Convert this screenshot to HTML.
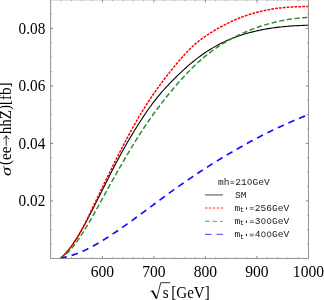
<!DOCTYPE html>
<html><head><meta charset="utf-8"><title>plot</title>
<style>
html,body{margin:0;padding:0;background:#fff;}
body{width:324px;height:300px;overflow:hidden;}
svg{display:block;}
.ser{font-family:"Liberation Serif",serif;font-size:16px;fill:#000;}
.lab{font-family:"Liberation Serif",serif;font-size:16px;fill:#000;}
.mono{font-family:"Liberation Mono",monospace;font-size:8.3px;fill:#181818;}
</style></head><body>
<svg width="324" height="300" viewBox="0 0 324 300" style="will-change:transform">
<rect width="324" height="300" fill="#fff"/>
<clipPath id="cp"><rect x="50.65" y="0" width="257.75" height="259.0"/></clipPath>
<g clip-path="url(#cp)" fill="none" stroke-linecap="butt" stroke-linejoin="round">
<path d="M60.50,258.29 L61.17,257.72 L61.84,257.12 L62.51,256.50 L63.18,255.85 L63.85,255.19 L64.52,254.50 L65.19,253.79 L65.86,253.05 L66.53,252.30 L67.19,251.53 L67.86,250.73 L68.53,249.91 L69.20,249.08 L69.87,248.22 L70.54,247.34 L71.21,246.44 L71.88,245.53 L72.55,244.59 L73.22,243.63 L73.89,242.66 L74.56,241.67 L75.23,240.66 L75.90,239.63 L76.57,238.58 L77.24,237.52 L77.91,236.43 L78.58,235.33 L79.25,234.22 L79.92,233.09 L80.58,231.94 L81.25,230.77 L81.92,229.59 L82.59,228.40 L83.26,227.19 L83.93,225.97 L84.60,224.74 L85.27,223.50 L85.94,222.25 L86.61,220.99 L87.28,219.72 L87.95,218.44 L88.62,217.16 L89.29,215.87 L89.96,214.57 L90.63,213.27 L91.30,211.96 L91.97,210.65 L92.64,209.33 L93.31,208.01 L93.97,206.68 L94.64,205.35 L95.31,204.02 L95.98,202.69 L96.65,201.35 L97.32,200.02 L97.99,198.68 L98.66,197.34 L99.33,196.00 L100.00,194.66 L101.75,191.14 L103.51,187.63 L105.26,184.13 L107.02,180.65 L108.77,177.18 L110.53,173.73 L112.28,170.30 L114.04,166.91 L115.79,163.55 L117.55,160.23 L119.30,156.95 L121.06,153.72 L122.81,150.54 L124.56,147.41 L126.32,144.33 L128.07,141.29 L129.83,138.30 L131.58,135.35 L133.34,132.44 L135.09,129.58 L136.85,126.76 L138.60,123.97 L140.36,121.23 L142.11,118.53 L143.87,115.88 L145.62,113.27 L147.37,110.72 L149.13,108.22 L150.88,105.78 L152.64,103.40 L154.39,101.08 L156.15,98.82 L157.90,96.64 L159.66,94.53 L161.41,92.48 L163.17,90.49 L164.92,88.56 L166.68,86.66 L168.43,84.80 L170.18,82.97 L171.94,81.16 L173.69,79.38 L175.45,77.63 L177.20,75.91 L178.96,74.21 L180.71,72.54 L182.47,70.90 L184.22,69.29 L185.98,67.72 L187.73,66.17 L189.49,64.66 L191.24,63.18 L192.99,61.73 L194.75,60.31 L196.50,58.93 L198.26,57.59 L200.01,56.28 L201.77,55.00 L203.52,53.77 L205.28,52.57 L207.03,51.40 L208.79,50.28 L210.54,49.19 L212.30,48.13 L214.05,47.11 L215.81,46.13 L217.56,45.17 L219.31,44.25 L221.07,43.36 L222.82,42.50 L224.58,41.67 L226.33,40.87 L228.09,40.10 L229.84,39.36 L231.60,38.64 L233.35,37.95 L235.11,37.28 L236.86,36.64 L238.62,36.02 L240.37,35.43 L242.12,34.85 L243.88,34.30 L245.63,33.77 L247.39,33.26 L249.14,32.77 L250.90,32.30 L252.65,31.86 L254.41,31.43 L256.16,31.01 L257.92,30.62 L259.67,30.25 L261.43,29.89 L263.18,29.55 L264.93,29.22 L266.69,28.91 L268.44,28.62 L270.20,28.34 L271.95,28.08 L273.71,27.83 L275.46,27.60 L277.22,27.38 L278.97,27.17 L280.73,26.97 L282.48,26.79 L284.24,26.61 L285.99,26.45 L287.74,26.30 L289.50,26.16 L291.25,26.03 L293.01,25.91 L294.76,25.80 L296.52,25.69 L298.27,25.60 L300.03,25.51 L301.78,25.43 L303.54,25.35 L305.29,25.28 L307.05,25.22 L308.80,25.17" stroke="#000" stroke-width="1.1"/>
<path d="M60.50,258.29 L61.17,257.71 L61.84,257.10 L62.51,256.48 L63.18,255.83 L63.85,255.17 L64.52,254.48 L65.19,253.77 L65.86,253.05 L66.53,252.30 L67.19,251.53 L67.86,250.75 L68.53,249.94 L69.20,249.11 L69.87,248.26 L70.54,247.39 L71.21,246.49 L71.88,245.58 L72.55,244.65 L73.22,243.69 L73.89,242.71 L74.56,241.71 L75.23,240.69 L75.90,239.65 L76.57,238.58 L77.24,237.49 L77.91,236.38 L78.58,235.25 L79.25,234.10 L79.92,232.92 L80.58,231.72 L81.25,230.50 L81.92,229.26 L82.59,228.00 L83.26,226.72 L83.93,225.42 L84.60,224.12 L85.27,222.79 L85.94,221.46 L86.61,220.11 L87.28,218.76 L87.95,217.40 L88.62,216.02 L89.29,214.65 L89.96,213.26 L90.63,211.88 L91.30,210.49 L91.97,209.09 L92.64,207.70 L93.31,206.30 L93.97,204.90 L94.64,203.50 L95.31,202.11 L95.98,200.71 L96.65,199.31 L97.32,197.91 L97.99,196.51 L98.66,195.11 L99.33,193.71 L100.00,192.32 L101.75,188.67 L103.51,185.02 L105.26,181.39 L107.02,177.78 L108.77,174.18 L110.53,170.60 L112.28,167.05 L114.04,163.51 L115.79,160.00 L117.55,156.52 L119.30,153.06 L121.06,149.64 L122.81,146.25 L124.56,142.89 L126.32,139.57 L128.07,136.28 L129.83,133.04 L131.58,129.83 L133.34,126.68 L135.09,123.56 L136.85,120.50 L138.60,117.48 L140.36,114.52 L142.11,111.61 L143.87,108.75 L145.62,105.95 L147.37,103.21 L149.13,100.51 L150.88,97.87 L152.64,95.27 L154.39,92.73 L156.15,90.22 L157.90,87.76 L159.66,85.35 L161.41,82.97 L163.17,80.63 L164.92,78.32 L166.68,76.05 L168.43,73.82 L170.18,71.61 L171.94,69.43 L173.69,67.28 L175.45,65.16 L177.20,63.06 L178.96,60.99 L180.71,58.95 L182.47,56.94 L184.22,54.99 L185.98,53.07 L187.73,51.22 L189.49,49.42 L191.24,47.68 L192.99,46.02 L194.75,44.42 L196.50,42.91 L198.26,41.47 L200.01,40.10 L201.77,38.79 L203.52,37.53 L205.28,36.32 L207.03,35.15 L208.79,34.01 L210.54,32.90 L212.30,31.82 L214.05,30.75 L215.81,29.71 L217.56,28.70 L219.31,27.70 L221.07,26.73 L222.82,25.78 L224.58,24.86 L226.33,23.96 L228.09,23.09 L229.84,22.24 L231.60,21.41 L233.35,20.61 L235.11,19.83 L236.86,19.08 L238.62,18.36 L240.37,17.66 L242.12,16.99 L243.88,16.34 L245.63,15.72 L247.39,15.12 L249.14,14.55 L250.90,14.00 L252.65,13.47 L254.41,12.97 L256.16,12.49 L257.92,12.03 L259.67,11.59 L261.43,11.17 L263.18,10.78 L264.93,10.41 L266.69,10.05 L268.44,9.72 L270.20,9.41 L271.95,9.11 L273.71,8.83 L275.46,8.58 L277.22,8.34 L278.97,8.11 L280.73,7.91 L282.48,7.72 L284.24,7.55 L285.99,7.39 L287.74,7.25 L289.50,7.12 L291.25,7.01 L293.01,6.91 L294.76,6.83 L296.52,6.76 L298.27,6.70 L300.03,6.65 L301.78,6.62 L303.54,6.60 L305.29,6.59 L307.05,6.59 L308.80,6.61" stroke="#ff0000" stroke-width="1.5" stroke-dasharray="2.7 1.19" stroke-dashoffset="3.0"/>
<path d="M60.50,258.30 L61.17,257.90 L61.84,257.46 L62.51,257.00 L63.18,256.51 L63.85,256.00 L64.52,255.46 L65.19,254.90 L65.86,254.31 L66.53,253.70 L67.19,253.07 L67.86,252.41 L68.53,251.73 L69.20,251.03 L69.87,250.31 L70.54,249.57 L71.21,248.80 L71.88,248.02 L72.55,247.22 L73.22,246.39 L73.89,245.55 L74.56,244.69 L75.23,243.81 L75.90,242.92 L76.57,242.01 L77.24,241.08 L77.91,240.13 L78.58,239.17 L79.25,238.20 L79.92,237.21 L80.58,236.21 L81.25,235.19 L81.92,234.16 L82.59,233.11 L83.26,232.06 L83.93,230.99 L84.60,229.91 L85.27,228.82 L85.94,227.72 L86.61,226.61 L87.28,225.49 L87.95,224.36 L88.62,223.22 L89.29,222.07 L89.96,220.92 L90.63,219.76 L91.30,218.59 L91.97,217.41 L92.64,216.23 L93.31,215.04 L93.97,213.85 L94.64,212.65 L95.31,211.45 L95.98,210.25 L96.65,209.04 L97.32,207.83 L97.99,206.62 L98.66,205.40 L99.33,204.19 L100.00,202.97 L101.75,199.78 L103.51,196.59 L105.26,193.41 L107.02,190.23 L108.77,187.07 L110.53,183.92 L112.28,180.78 L114.04,177.65 L115.79,174.54 L117.55,171.44 L119.30,168.36 L121.06,165.30 L122.81,162.27 L124.56,159.25 L126.32,156.26 L128.07,153.30 L129.83,150.36 L131.58,147.45 L133.34,144.57 L135.09,141.72 L136.85,138.90 L138.60,136.12 L140.36,133.38 L142.11,130.67 L143.87,127.99 L145.62,125.36 L147.37,122.77 L149.13,120.22 L150.88,117.71 L152.64,115.23 L154.39,112.80 L156.15,110.40 L157.90,108.03 L159.66,105.70 L161.41,103.40 L163.17,101.13 L164.92,98.89 L166.68,96.69 L168.43,94.51 L170.18,92.36 L171.94,90.24 L173.69,88.15 L175.45,86.09 L177.20,84.06 L178.96,82.06 L180.71,80.09 L182.47,78.15 L184.22,76.24 L185.98,74.37 L187.73,72.53 L189.49,70.73 L191.24,68.96 L192.99,67.23 L194.75,65.53 L196.50,63.88 L198.26,62.26 L200.01,60.68 L201.77,59.13 L203.52,57.63 L205.28,56.17 L207.03,54.75 L208.79,53.38 L210.54,52.04 L212.30,50.74 L214.05,49.47 L215.81,48.25 L217.56,47.05 L219.31,45.90 L221.07,44.77 L222.82,43.68 L224.58,42.62 L226.33,41.58 L228.09,40.58 L229.84,39.61 L231.60,38.66 L233.35,37.74 L235.11,36.84 L236.86,35.97 L238.62,35.12 L240.37,34.30 L242.12,33.49 L243.88,32.70 L245.63,31.94 L247.39,31.20 L249.14,30.47 L250.90,29.77 L252.65,29.09 L254.41,28.43 L256.16,27.79 L257.92,27.17 L259.67,26.57 L261.43,25.98 L263.18,25.42 L264.93,24.88 L266.69,24.36 L268.44,23.86 L270.20,23.37 L271.95,22.91 L273.71,22.47 L275.46,22.04 L277.22,21.63 L278.97,21.25 L280.73,20.88 L282.48,20.53 L284.24,20.19 L285.99,19.88 L287.74,19.59 L289.50,19.31 L291.25,19.05 L293.01,18.81 L294.76,18.59 L296.52,18.38 L298.27,18.19 L300.03,18.02 L301.78,17.87 L303.54,17.73 L305.29,17.62 L307.05,17.52 L308.80,17.43" stroke="#2f8f2f" stroke-width="1.5" stroke-dasharray="5.2 2.55" stroke-dashoffset="0.45"/>
<path d="M60.50,258.30 L61.17,258.14 L61.84,257.98 L62.51,257.82 L63.18,257.66 L63.85,257.50 L64.52,257.33 L65.19,257.16 L65.86,256.99 L66.53,256.81 L67.19,256.64 L67.86,256.46 L68.53,256.27 L69.20,256.08 L69.87,255.89 L70.54,255.70 L71.21,255.50 L71.88,255.29 L72.55,255.08 L73.22,254.87 L73.89,254.65 L74.56,254.43 L75.23,254.20 L75.90,253.96 L76.57,253.73 L77.24,253.48 L77.91,253.23 L78.58,252.97 L79.25,252.71 L79.92,252.44 L80.58,252.17 L81.25,251.89 L81.92,251.60 L82.59,251.31 L83.26,251.01 L83.93,250.71 L84.60,250.40 L85.27,250.09 L85.94,249.78 L86.61,249.45 L87.28,249.13 L87.95,248.79 L88.62,248.46 L89.29,248.12 L89.96,247.77 L90.63,247.42 L91.30,247.07 L91.97,246.71 L92.64,246.35 L93.31,245.98 L93.97,245.61 L94.64,245.24 L95.31,244.86 L95.98,244.48 L96.65,244.09 L97.32,243.70 L97.99,243.31 L98.66,242.92 L99.33,242.52 L100.00,242.12 L101.75,241.05 L103.51,239.97 L105.26,238.86 L107.02,237.75 L108.77,236.61 L110.53,235.47 L112.28,234.31 L114.04,233.14 L115.79,231.96 L117.55,230.76 L119.30,229.56 L121.06,228.34 L122.81,227.11 L124.56,225.88 L126.32,224.64 L128.07,223.38 L129.83,222.12 L131.58,220.86 L133.34,219.59 L135.09,218.31 L136.85,217.02 L138.60,215.73 L140.36,214.44 L142.11,213.15 L143.87,211.85 L145.62,210.55 L147.37,209.24 L149.13,207.94 L150.88,206.64 L152.64,205.33 L154.39,204.03 L156.15,202.72 L157.90,201.42 L159.66,200.12 L161.41,198.83 L163.17,197.53 L164.92,196.24 L166.68,194.96 L168.43,193.68 L170.18,192.41 L171.94,191.14 L173.69,189.88 L175.45,188.62 L177.20,187.38 L178.96,186.14 L180.71,184.90 L182.47,183.68 L184.22,182.46 L185.98,181.24 L187.73,180.04 L189.49,178.84 L191.24,177.65 L192.99,176.46 L194.75,175.28 L196.50,174.11 L198.26,172.95 L200.01,171.79 L201.77,170.64 L203.52,169.50 L205.28,168.36 L207.03,167.23 L208.79,166.11 L210.54,164.99 L212.30,163.89 L214.05,162.79 L215.81,161.69 L217.56,160.61 L219.31,159.53 L221.07,158.46 L222.82,157.39 L224.58,156.33 L226.33,155.28 L228.09,154.24 L229.84,153.21 L231.60,152.18 L233.35,151.16 L235.11,150.15 L236.86,149.14 L238.62,148.14 L240.37,147.15 L242.12,146.17 L243.88,145.19 L245.63,144.22 L247.39,143.26 L249.14,142.31 L250.90,141.36 L252.65,140.43 L254.41,139.50 L256.16,138.57 L257.92,137.66 L259.67,136.75 L261.43,135.85 L263.18,134.96 L264.93,134.07 L266.69,133.20 L268.44,132.33 L270.20,131.47 L271.95,130.61 L273.71,129.77 L275.46,128.93 L277.22,128.10 L278.97,127.28 L280.73,126.47 L282.48,125.66 L284.24,124.86 L285.99,124.07 L287.74,123.29 L289.50,122.52 L291.25,121.75 L293.01,120.99 L294.76,120.24 L296.52,119.50 L298.27,118.76 L300.03,118.04 L301.78,117.32 L303.54,116.61 L305.29,115.91 L307.05,115.22 L308.80,114.53" stroke="#1010ff" stroke-width="1.7" stroke-dasharray="6.6 4.98" stroke-dashoffset="0.1"/>
<path d="M307.7,115.05 L308.6,114.7" stroke="#1010ff" stroke-width="1.7"/>
</g>
<rect x="50.65" y="-0.2" width="257.75" height="258.59999999999997" fill="none" stroke="#848484" stroke-width="0.88"/>
<path d="M61.20,258.4 v-1.5 M61.20,-0.2 v1.5 M71.50,258.4 v-1.5 M71.50,-0.2 v1.5 M81.80,258.4 v-1.5 M81.80,-0.2 v1.5 M92.10,258.4 v-1.5 M92.10,-0.2 v1.5 M112.70,258.4 v-1.5 M112.70,-0.2 v1.5 M123.00,258.4 v-1.5 M123.00,-0.2 v1.5 M133.30,258.4 v-1.5 M133.30,-0.2 v1.5 M143.60,258.4 v-1.5 M143.60,-0.2 v1.5 M164.20,258.4 v-1.5 M164.20,-0.2 v1.5 M174.50,258.4 v-1.5 M174.50,-0.2 v1.5 M184.80,258.4 v-1.5 M184.80,-0.2 v1.5 M195.10,258.4 v-1.5 M195.10,-0.2 v1.5 M215.70,258.4 v-1.5 M215.70,-0.2 v1.5 M226.00,258.4 v-1.5 M226.00,-0.2 v1.5 M236.30,258.4 v-1.5 M236.30,-0.2 v1.5 M246.60,258.4 v-1.5 M246.60,-0.2 v1.5 M267.20,258.4 v-1.5 M267.20,-0.2 v1.5 M277.50,258.4 v-1.5 M277.50,-0.2 v1.5 M287.80,258.4 v-1.5 M287.80,-0.2 v1.5 M298.10,258.4 v-1.5 M298.10,-0.2 v1.5 M50.65,244.02 h1.5 M308.4,244.02 h-1.5 M50.65,229.65 h1.5 M308.4,229.65 h-1.5 M50.65,215.27 h1.5 M308.4,215.27 h-1.5 M50.65,186.52 h1.5 M308.4,186.52 h-1.5 M50.65,172.15 h1.5 M308.4,172.15 h-1.5 M50.65,157.77 h1.5 M308.4,157.77 h-1.5 M50.65,129.02 h1.5 M308.4,129.02 h-1.5 M50.65,114.65 h1.5 M308.4,114.65 h-1.5 M50.65,100.27 h1.5 M308.4,100.27 h-1.5 M50.65,71.52 h1.5 M308.4,71.52 h-1.5 M50.65,57.15 h1.5 M308.4,57.15 h-1.5 M50.65,42.77 h1.5 M308.4,42.77 h-1.5 M50.65,14.02 h1.5 M308.4,14.02 h-1.5" fill="none" stroke="#8c8c8c" stroke-width="0.6"/>
<path d="M102.40,258.4 v-2.6 M102.40,-0.2 v2.6 M153.90,258.4 v-2.6 M153.90,-0.2 v2.6 M205.40,258.4 v-2.6 M205.40,-0.2 v2.6 M256.90,258.4 v-2.6 M256.90,-0.2 v2.6 M50.65,200.90 h2.6 M308.4,200.90 h-2.6 M50.65,143.40 h2.6 M308.4,143.40 h-2.6 M50.65,85.90 h2.6 M308.4,85.90 h-2.6 M50.65,28.40 h2.6 M308.4,28.40 h-2.6" fill="none" stroke="#6c6c6c" stroke-width="0.8"/>
<g class="ser"><text transform="translate(102.45,276.6) scale(0.975,1)" text-anchor="middle">600</text><text transform="translate(153.95,276.6) scale(0.975,1)" text-anchor="middle">700</text><text transform="translate(205.45,276.6) scale(0.975,1)" text-anchor="middle">800</text><text transform="translate(256.95,276.6) scale(0.975,1)" text-anchor="middle">900</text><text transform="translate(308.45,276.6) scale(0.975,1)" text-anchor="middle">1000</text><text transform="translate(45.3,206.30) scale(0.955,1)" text-anchor="end">0.02</text><text transform="translate(45.3,148.80) scale(0.955,1)" text-anchor="end">0.04</text><text transform="translate(45.3,91.30) scale(0.955,1)" text-anchor="end">0.06</text><text transform="translate(45.3,33.80) scale(0.955,1)" text-anchor="end">0.08</text></g>
<!-- x axis label -->
<g class="lab">
<path d="M150.4,291.8 L152.4,290.6" fill="none" stroke="#000" stroke-width="0.8"/>
<path d="M152.3,290.6 L156.5,298.4" fill="none" stroke="#000" stroke-width="1.7"/>
<path d="M156.6,298.8 L160.8,282.7 H170.3" fill="none" stroke="#000" stroke-width="0.8"/>
<text transform="translate(162.8,297.8) scale(0.95,1)">s</text>
<text transform="translate(171.3,297.8) scale(0.94,1)">[GeV]</text>
</g>
<!-- y axis label -->
<g class="lab" transform="translate(11.4,176.3) rotate(-90)">
<text transform="translate(0.4,0) scale(1.15,0.97)" font-style="italic">σ</text>
<text transform="translate(11.2,0) scale(0.95,1)"><tspan dy="-1.5">(</tspan><tspan dy="1.5">ee</tspan></text>
<path d="M30.7,-5.2 H40.5 M37.1,-8.3 Q38.5,-6.1 40.7,-5.2 Q38.5,-4.3 37.1,-2.1" fill="none" stroke="#000" stroke-width="0.8"/>
<text transform="translate(42.0,0) scale(0.942,1)">hhZ<tspan dy="-1.4">)[</tspan><tspan dy="1.4">fb</tspan><tspan dy="-1.4">]</tspan></text>
</g>
<!-- legend -->
<g class="mono">
<text transform="translate(218.00,184.70) scale(1.1546,1)" xml:space="preserve">mh 21 GeV</text>
<path d="M230.25,181.75 h4.0 M230.25,183.35 h4.0" stroke="#222" stroke-width="0.62" fill="none"/>
<ellipse cx="249.62" cy="181.90" rx="1.85" ry="2.6" fill="none" stroke="#1a1a1a" stroke-width="0.8"/>
<text transform="translate(235.10,197.60) scale(1.1546,1)" xml:space="preserve">SM</text>
<text transform="translate(234.45,210.60) scale(1.1546,1)">m</text>
<text transform="translate(239.7,212.10) scale(1.1546,1)" style="font-size:6.3px">t</text>
<path d="M246.4,207.30 v2.2" stroke="#111" stroke-width="1.0" fill="none"/>
<text transform="translate(249.00,210.60) scale(1.1546,1)" xml:space="preserve"> 256GeV</text>
<path d="M249.75,207.65 h4.0 M249.75,209.25 h4.0" stroke="#222" stroke-width="0.62" fill="none"/>
<text transform="translate(234.45,223.90) scale(1.1546,1)">m</text>
<text transform="translate(239.7,225.40) scale(1.1546,1)" style="font-size:6.3px">t</text>
<path d="M246.4,220.60 v2.2" stroke="#111" stroke-width="1.0" fill="none"/>
<text transform="translate(249.00,223.90) scale(1.1546,1)" xml:space="preserve"> 3  GeV</text>
<path d="M249.75,220.95 h4.0 M249.75,222.55 h4.0" stroke="#222" stroke-width="0.62" fill="none"/>
<ellipse cx="263.38" cy="221.10" rx="1.85" ry="2.6" fill="none" stroke="#1a1a1a" stroke-width="0.8"/>
<ellipse cx="269.12" cy="221.10" rx="1.85" ry="2.6" fill="none" stroke="#1a1a1a" stroke-width="0.8"/>
<text transform="translate(234.45,237.20) scale(1.1546,1)">m</text>
<text transform="translate(239.7,238.70) scale(1.1546,1)" style="font-size:6.3px">t</text>
<path d="M246.4,233.90 v2.2" stroke="#111" stroke-width="1.0" fill="none"/>
<text transform="translate(249.00,237.20) scale(1.1546,1)" xml:space="preserve"> 4  GeV</text>
<path d="M249.75,234.25 h4.0 M249.75,235.85 h4.0" stroke="#222" stroke-width="0.62" fill="none"/>
<ellipse cx="263.38" cy="234.40" rx="1.85" ry="2.6" fill="none" stroke="#1a1a1a" stroke-width="0.8"/>
<ellipse cx="269.12" cy="234.40" rx="1.85" ry="2.6" fill="none" stroke="#1a1a1a" stroke-width="0.8"/>
</g>
<g fill="none">
<path d="M205,194.93 H223" stroke="#000" stroke-width="0.72"/>
<path d="M205,208.0 H223" stroke="#ff0000" stroke-width="0.8" stroke-dasharray="2.5 1.4"/>
<path d="M205,221.3 H223" stroke="#2f8f2f" stroke-width="0.8" stroke-dasharray="4.6 3.0"/>
<path d="M205,234.3 H223" stroke="#1010ff" stroke-width="0.8" stroke-dasharray="6.5 5.0"/>
</g>
</svg>
</body></html>
